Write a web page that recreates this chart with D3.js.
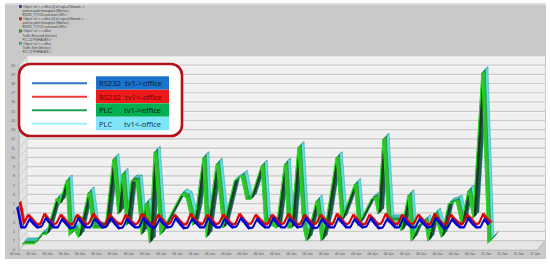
<!DOCTYPE html>
<html><head><meta charset="utf-8">
<script src="https://cdn.jsdelivr.net/npm/d3@7"></script>
<style>body{margin:0;background:#fff}svg{display:block}</style>
</head><body>
<svg id="c" width="550" height="266"></svg>
<script>
// ---------------- data ----------------
const xLabels = ["06 Jan","06 Jan","06 Jan","06 Jan","06 Jan","06 Jan","06 Jan","06 Jan","06 Jan","06 Jan","06 Jan",
  "06 Jan","06 Jan","06 Jan","06 Jan","06 Jan","06 Jan","06 Jan","06 Jan","06 Jan","06 Jan","06 Jan",
  "06 Jan","06 Jan","06 Jan","06 Jan","06 Jan","06 Jan","06 Jan","11 Jan","11 Jan","11 Jan","11 Jan"];
const yTicks = [0,1,2,3,4,5,6,7,8,9,10,11,12,13,14,15,16,17,18,19,20];

const seriesNames = ["RS232 tv1->office","RS232 tv1<-office","PLC tv1->office","PLC tv1<-office"];
const headerLines = [
  ["Object: tv1 <-> office [0] of Logical Network ->","point-to-point throughput (Mbit/sec)","RS232_TTY115 overaseni DES >"],
  ["Object: tv1 <-> office [0] of Logical Network <-","point-to-point throughput (Mbit/sec)","RS232_TTY115 overaseni DES >"],
  ["Object: tv1 <-> office","Traffic Received (bits/sec)","PLC 22 PINHAGES >"],
  ["Object: tv1 <-> office","Traffic Sent (bits/sec)","PLC 22 PINHAGES >"]
];

// RS232 samples, one every quarter of a label interval
const rsStep = 0.25;
const rsForward = [4.5,
 2.3,2.3,3.2,2.7, 2.3,2.4,3.3,2.8, 2.3,2.3,3.2,2.7, 2.2,2.3,3.3,2.7, 2.3,2.3,3.2,2.8,
 2.3,2.4,3.3,2.7, 2.2,2.3,3.2,2.7, 2.3,2.3,3.3,2.8, 2.3,2.3,3.2,2.7, 2.3,2.4,3.3,2.7,
 2.2,2.3,3.2,2.8, 2.3,2.3,3.3,2.7, 2.3,2.3,3.2,2.7, 2.3,2.4,3.3,2.8, 2.2,2.3,3.2,2.7,
 2.3,2.3,3.3,2.7, 2.3,2.3,3.2,2.8, 2.3,2.4,3.3,2.7, 2.2,2.3,3.2,2.7, 2.3,2.3,3.3,2.8,
 2.3,2.3,3.2,2.7, 2.3,2.4,3.3,2.7, 2.2,2.3,3.2,2.8, 2.3,2.3,3.3,2.7, 2.3,2.3,3.2,2.7,
 2.3,2.4,3.3,2.8, 2.2,2.3,3.2,2.7, 2.3,2.3,3.3,2.7, 2.3,2.3,3.2,2.6];
const rsBackward = [4.8,
 2.5,3.4,2.9,2.4, 2.4,3.5,2.9,2.4, 2.5,3.4,2.9,2.4, 2.4,3.4,3.0,2.4, 2.5,3.5,2.9,2.4,
 2.4,3.4,2.9,2.5, 2.4,3.4,2.9,2.4, 2.5,3.5,3.0,2.4, 2.4,3.4,2.9,2.4, 2.5,3.4,2.9,2.4,
 2.4,3.5,2.9,2.5, 2.4,3.4,3.0,2.4, 2.5,3.4,2.9,2.4, 2.4,3.5,2.9,2.4, 2.5,3.4,2.9,2.5,
 2.4,3.4,3.0,2.4, 2.5,3.5,2.9,2.4, 2.4,3.4,2.9,2.4, 2.5,3.4,2.9,2.5, 2.4,3.5,3.0,2.4,
 2.5,3.4,2.9,2.4, 2.4,3.4,2.9,2.4, 2.5,3.5,2.9,2.5, 2.4,3.4,3.0,2.4, 2.5,3.4,2.9,2.4,
 2.4,3.5,2.9,2.4, 2.5,3.4,2.9,2.5, 2.4,3.4,3.0,2.4, 2.5,3.5,2.9,2.6];

// PLC samples (time in label intervals)
const plcTime = [0,0.74,1.17,1.48,2.09,2.28,2.71,2.89,3.18,3.45,4.06,4.35,4.86,5.1,5.58,5.89,6.14,6.4,6.71,7.02,
 7.32,7.57,7.83,8.12,8.49,9.78,10.09,10.5,10.71,11.12,11.32,11.94,12.35,13.06,13.48,13.78,14.05,14.71,14.91,15.63,
 16.14,16.35,16.55,16.97,17.27,17.48,18.09,18.4,18.71,19.32,19.63,20.45,20.66,21.48,21.68,21.89,22.2,22.5,23.12,23.32,
 23.74,23.94,24.35,24.76,24.97,25.37,25.78,26.23,26.71,27.02,27.43,27.74,28.29,28.66,28.97];
const plcReceived = [0.1,0.1,1.1,1.1,4.9,4.4,6.9,1.0,1.7,0.8,5.6,1.8,1.8,1.8,9.2,3.3,7.6,2.1,6.9,6.9,
 1.1,4.4,0.2,10.0,1.1,5.4,5.1,2.1,3.8,9.4,0.8,8.7,1.8,6.9,7.4,4.9,4.9,8.5,2.6,1.8,
 8.7,1.8,1.8,10.5,2.0,0.4,4.7,0.4,2.6,9.4,2.6,6.5,2.1,4.9,5.1,3.3,11.4,2.6,2.6,1.5,
 5.3,0.4,2.0,2.6,0.4,3.3,0.8,4.4,4.7,2.2,5.8,2.9,18.6,0.2,0.8];
const plcSent = [0.2,0.2,1.2,1.2,5.0,4.5,7.0,1.1,1.8,0.9,5.7,1.9,1.9,1.9,9.3,3.4,7.7,2.2,7.0,7.0,
 1.2,4.5,0.3,10.1,1.2,5.5,5.2,2.2,3.9,9.5,0.9,8.8,1.9,7.0,7.5,5.0,5.0,8.6,2.7,1.9,
 8.8,1.9,1.9,10.6,2.1,0.5,4.8,0.5,2.7,9.5,2.7,6.6,2.2,5.0,5.2,3.4,11.5,2.7,2.7,1.6,
 5.4,0.5,2.1,2.7,0.5,3.4,0.9,4.5,4.8,2.3,5.9,3.0,18.7,0.3,0.9];

// ---------------- drawing ----------------
const svg = d3.select("#c");
const x = d3.scaleLinear().domain([0, 32]).range([16, 536]);
const y = d3.scaleLinear().domain([0, 20]).range([250, 65.2]);
const D = [8, -9.3];             // depth of the 3-D box
const FL = 19, FR = 537;         // front left / right of the floor

// panel
svg.append("rect").attr("x",5).attr("y",3).attr("width",541).attr("height",256).attr("fill","#c9c9c9");
svg.append("rect").attr("x",5).attr("y",3).attr("width",541).attr("height",2).attr("fill","#dedede");

// back wall
svg.append("rect").attr("x",FL+D[0]).attr("y",y(20)+D[1]).attr("width",545-(FL+D[0])).attr("height",y(0)-y(20))
  .attr("fill","#f0f0f0");
// left wall
svg.append("path").attr("d",`M${FL},${y(0)}L${FL+D[0]},${y(0)+D[1]}L${FL+D[0]},${y(20)+D[1]}L${FL},${y(20)}Z`)
  .attr("fill","#e3e3e3").attr("stroke","#b8b8b8").attr("stroke-width",0.5);
// floor
svg.append("path").attr("d",`M${FL},${y(0)}L${FR},${y(0)}L${FR+D[0]},${y(0)+D[1]}L${FL+D[0]},${y(0)+D[1]}Z`)
  .attr("fill","#e6e6e6").attr("stroke","#a8a8a8").attr("stroke-width",0.6);

// grid lines
const grid = svg.append("g");
yTicks.forEach(v => {
  const yb = y(v) + D[1];
  if (v > 0) {
    grid.append("line").attr("x1",FL+D[0]).attr("x2",545).attr("y1",yb).attr("y2",yb)
      .attr("stroke","#cbcbcb").attr("stroke-width",1.4);
    grid.append("line").attr("x1",FL+D[0]).attr("x2",545).attr("y1",yb+1.2).attr("y2",yb+1.2)
      .attr("stroke","#fbfbfb").attr("stroke-width",0.6);
  }
  grid.append("line").attr("x1",FL).attr("x2",FL+D[0]).attr("y1",y(v)).attr("y2",yb)
    .attr("stroke","#bdbdbd").attr("stroke-width",0.6);
});
svg.append("line").attr("x1",FL).attr("x2",FL).attr("y1",y(0)).attr("y2",y(20)).attr("stroke","#a0a0a0").attr("stroke-width",0.6);

// axis labels
const labFont = "Liberation Sans, Arial, sans-serif";
svg.append("g").selectAll("text").data(yTicks).join("text")
  .attr("x",15).attr("y",d => y(d)+1.3).attr("text-anchor","end")
  .attr("font-family",labFont).attr("font-size",3.6).attr("fill","#555").text(d => d);
svg.append("g").selectAll("text").data(xLabels).join("text")
  .attr("x",(d,i) => x(i)-1).attr("y",254.5).attr("text-anchor","middle")
  .attr("font-family",labFont).attr("font-size",3.4).attr("fill","#555").text(d => d);
svg.append("g").selectAll("line").data(xLabels).join("line")
  .attr("x1",(d,i)=>x(i)+2).attr("x2",(d,i)=>x(i)+2).attr("y1",250).attr("y2",251.5)
  .attr("stroke","#999").attr("stroke-width",0.5);

// 3-D ribbons
function ribbon(pts, off, depth, col) {
  const g = svg.append("g");
  const P = pts.map(p => [x(p[0]) + off[0], y(p[1]) + off[1]]);
  for (let i = 0; i < P.length - 1; i++) {
    const a = P[i], b = P[i+1];
    const dy = b[1] - a[1], dx = b[0] - a[0];
    const s = -dy / Math.max(dx, 0.1);
    let fill = col.mid;
    if (s > 0.4) fill = col.dark; else if (s < -0.4) fill = col.light;
    g.append("path")
      .attr("d", `M${a[0]},${a[1]}L${b[0]},${b[1]}L${b[0]+depth[0]},${b[1]+depth[1]}L${a[0]+depth[0]},${a[1]+depth[1]}Z`)
      .attr("fill", fill).attr("stroke", col.edge).attr("stroke-width", 0.35);
  }
  g.append("path").datum(P).attr("d", d3.line()).attr("fill","none")
    .attr("stroke", col.line).attr("stroke-width", col.w);
}
const rowOff = k => [1 + 2.6*k, -1 - 2.2*k];

const cyanPts = plcTime.map((t,i) => [t, plcSent[i]]);
const greenPts = plcTime.map((t,i) => [t, plcReceived[i]]);
const redPts = rsBackward.map((v,i) => [i*rsStep, v]);
const bluePts = rsForward.map((v,i) => [i*rsStep, v]);

ribbon(cyanPts, rowOff(3), [3.4,-2.8], {dark:"#1d5f5f", mid:"#3cc4c4", light:"#5fe0e0", edge:"#2a7f7f", line:"#40d8d8", w:1.1});
ribbon(greenPts, rowOff(2), [3.4,-2.8], {dark:"#1a3a20", mid:"#2a9a35", light:"#30c030", edge:"#1a4f22", line:"#22dd22", w:1.1});
ribbon(redPts, rowOff(1), [1.6,-1.4], {dark:"#8a0000", mid:"#cc0000", light:"#ee1111", edge:"#aa0000", line:"#e00000", w:1.7});
ribbon(bluePts, rowOff(0), [1.6,-1.4], {dark:"#000070", mid:"#0000bb", light:"#1a1ae0", edge:"#00008a", line:"#0000d0", w:1.7});

// header legend (tiny text)
const hdrColors = ["#2a2aa8","#c02828","#2ca02c","#30b8b8"];
const hdr = svg.append("g");
headerLines.forEach((lines, k) => {
  const y0 = 7.8 + k*12.3;
  hdr.append("rect").attr("x",19.2).attr("y",y0-2.6).attr("width",2.6).attr("height",2.6)
    .attr("fill",hdrColors[k]).attr("stroke","#444").attr("stroke-width",0.3);
  lines.forEach((t, j) => {
    hdr.append("text").attr("x", j === 0 ? 23.3 : 22.5).attr("y", y0 + j*4.1)
      .attr("font-family",labFont).attr("font-size",3.0).attr("fill","#3a3a3a").text(t);
  });
});

// overlay legend box
const lg = svg.append("g");
lg.append("rect").attr("x",19).attr("y",64).attr("width",163).attr("height",72).attr("rx",11)
  .attr("fill","#fff").attr("stroke","#b3141c").attr("stroke-width",2.6);
const lineCols = ["#2e78c0","#ee3a3a","#1fa04a","#9ef0ff"];
const boxCols = ["#1a73cc","#f01a1a","#00b050","#7fe6fa"];
const txtCols = ["#101830","#6a0000","#101010","#1a2a3a"];
seriesNames.forEach((name, k) => {
  const cy = 83.3 + k*13.5;
  lg.append("line").attr("x1",32).attr("x2",87).attr("y1",cy).attr("y2",cy)
    .attr("stroke",lineCols[k]).attr("stroke-width",2);
  lg.append("rect").attr("x",96).attr("y",cy-7).attr("width",73).attr("height",13.4).attr("fill",boxCols[k]);
  const parts = name.split(" ");
  lg.append("text").attr("x",99).attr("y",cy+2.7).attr("font-family","Open Sans, sans-serif")
    .attr("font-size",7.6).attr("fill",txtCols[k]).text(parts[0]);
  lg.append("text").attr("x",k < 2 ? 125 : 124).attr("y",cy+2.7).attr("font-family","Open Sans, sans-serif")
    .attr("font-size",7.6).attr("fill",txtCols[k]).text(parts[1]);
});
</script>
</body></html>
